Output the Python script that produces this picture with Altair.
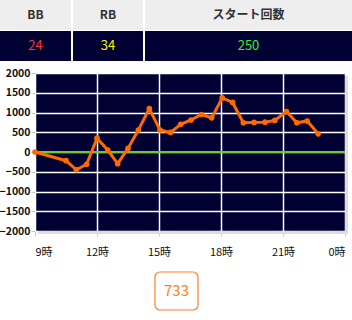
import altair as alt
import pandas as pd

# ---- data ----
hours = [9.0, 10.5, 11.0, 11.5, 12.0, 12.52, 13.0, 13.5, 14.0, 14.53, 15.05, 15.56,
         16.05, 16.55, 17.05, 17.55, 18.06, 18.56, 19.08, 19.6, 20.13, 20.6,
         21.17, 21.67, 22.17, 22.7]
diff = [0, -220, -450, -310, 350, 50, -295, 90, 555, 1100, 555, 495,
        700, 810, 950, 865, 1370, 1255, 740, 750, 755, 800,
        1025, 740, 785, 460]
col_labels = ["BB", "RB", "スタート回数"]
col_values = ["24", "34", "250"]
final_value = "733"
y_ticks = [-2000, -1500, -1000, -500, 0, 500, 1000, 1500, 2000]
x_ticks = [9, 12, 15, 18, 21, 24]

# ---- layout / style ----
W, H = 310, 158
PL, PT = 35, 73
NAVY = "#000033"
ORANGE = "#ff6a00"
FONT = "Noto Sans CJK JP"
col_edges = [(0, 71), (73, 143), (145, 352)]
col_colors = ["#ff3333", "#ffee00", "#33ee33"]

df = pd.DataFrame({"h": hours, "v": diff})
zero_df = pd.DataFrame({"v": [0]})
xs = alt.Scale(domain=[9, 24], nice=False, zero=False)
ys = alt.Scale(domain=[-2000, 2000], nice=False)
one = alt.Data(values=[{"a": 1}])

y_axis = alt.Axis(values=y_ticks, grid=True, gridColor="white", gridWidth=1.5,
                  gridOpacity=1, domain=False, tickColor="#cccccc", tickSize=4,
                  labelPadding=1, labelFontSize=10.5, labelFontWeight="bold",
                  labelColor="#111111", labelFont=FONT, format="d",
                  labelOverlap=False, labelBound=False, labelFlush=False)
x_axis = alt.Axis(values=x_ticks, grid=True, gridColor="white", gridWidth=1.5,
                  gridOpacity=1, domain=False, tickColor="#cccccc", tickSize=5,
                  labelPadding=10, labelFontSize=11, labelColor="#111111",
                  labelFont=FONT, labelOverlap=False,
                  labelExpr="(datum.value % 24) + '時'")

layers = []
for (x0, x1), lab, val, colr in zip(col_edges, col_labels, col_values, col_colors):
    layers.append(alt.Chart(one).mark_rect(color="#eeeeee").encode(
        x=alt.value(x0 - PL), x2=alt.value(x1 - PL),
        y=alt.value(0 - PT), y2=alt.value(30 - PT)))
    layers.append(alt.Chart(one).mark_rect(color=NAVY).encode(
        x=alt.value(x0 - PL), x2=alt.value(x1 - PL),
        y=alt.value(31 - PT), y2=alt.value(61 - PT)))
    layers.append(alt.Chart(one).mark_text(
        text=lab, font=FONT, fontSize=12, fontWeight="bold", color="#333333",
        align="center", baseline="middle").encode(
        x=alt.value((x0 + x1) / 2 - PL), y=alt.value(15 - PT)))
    layers.append(alt.Chart(one).mark_text(
        text=val, font=FONT, fontSize=13, color=colr,
        align="center", baseline="middle").encode(
        x=alt.value((x0 + x1) / 2 - PL), y=alt.value(46 - PT)))

# shadow of the plot frame
layers.append(alt.Chart(one).mark_rect(color="#dddddd").encode(
    x=alt.value(W), x2=alt.value(W + 3), y=alt.value(3), y2=alt.value(H + 3)))
layers.append(alt.Chart(one).mark_rect(color="#dddddd").encode(
    x=alt.value(3), x2=alt.value(W + 3), y=alt.value(H), y2=alt.value(H + 3)))

base = alt.Chart(df).encode(
    x=alt.X("h:Q", scale=xs, title=None, axis=x_axis),
    y=alt.Y("v:Q", scale=ys, title=None, axis=y_axis),
)

zero = alt.Chart(zero_df).mark_rule(color="#66cc33", strokeWidth=2).encode(
    y=alt.Y("v:Q", scale=ys, title=None, axis=y_axis))
line = base.mark_line(color=ORANGE, strokeWidth=3)
pts = base.mark_circle(color=ORANGE, size=32, opacity=1)

layers += [line, zero, pts]
# draw zero line beneath the series
layers[-3], layers[-2] = layers[-2], layers[-3]

box = alt.Chart(one).mark_rect(fill="white", stroke="#ff7f27", strokeWidth=1.2,
                               cornerRadius=5).encode(
    x=alt.value(155 - PL), x2=alt.value(198 - PL),
    y=alt.value(272 - PT), y2=alt.value(310 - PT))
box_text = alt.Chart(one).mark_text(text=final_value, font=FONT, fontSize=15,
                                    color="#ff7f27", align="center",
                                    baseline="middle").encode(
    x=alt.value(176.5 - PL), y=alt.value(291 - PT))
layers += [box, box_text]

chart = alt.layer(*layers).properties(
    width=W, height=H,
    padding={"left": PL, "top": PT, "right": 352 - PL - W, "bottom": 320 - PT - H},
    autosize="none",
    background="white",
).configure_view(fill=NAVY, strokeWidth=0)

chart.save("out.html", embed_options={"renderer": "svg", "actions": False})
